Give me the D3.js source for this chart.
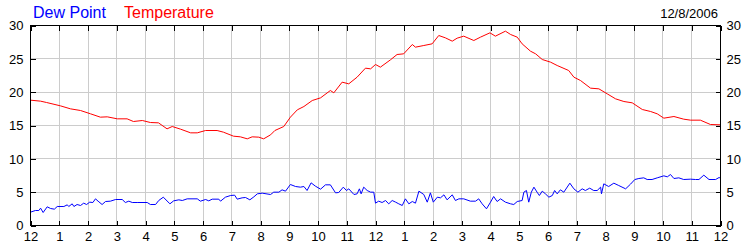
<!DOCTYPE html>
<html>
<head>
<meta charset="utf-8">
<script src="https://cdnjs.cloudflare.com/ajax/libs/d3/7.8.5/d3.min.js"></script>
<style>
  body { margin: 0; background: #fff; }
  svg { display: block; font-family: "Liberation Sans", Arial, sans-serif; }
</style>
</head>
<body>
<svg id="chart" width="750" height="250"></svg>
<script>
// hours after midnight, 12/8/2006
var tempHours = [0, 0.35, 0.56, 1.04, 1.39, 1.74, 2.09, 2.43, 2.67, 3.02, 3.36, 3.58, 3.89, 4.17, 4.45, 4.75, 4.93, 5.22, 5.57, 5.8, 6.09, 6.49, 6.71, 7.06, 7.3, 7.54, 7.71, 7.94, 8.11, 8.35, 8.5, 8.81, 9.04, 9.28, 9.51, 9.8, 10.09, 10.43, 10.55, 10.84, 11.07, 11.36, 11.65, 11.83, 12, 12.17, 12.52, 12.75, 12.98, 13.28, 13.39, 13.68, 13.97, 14.2, 14.43, 14.67, 14.84, 15.07, 15.42, 15.65, 15.98, 16.17, 16.52, 16.7, 16.93, 17.1, 17.39, 17.57, 17.8, 18.09, 18.32, 18.72, 18.9, 19.13, 19.48, 19.77, 20.06, 20.35, 20.64, 20.93, 21.28, 21.57, 21.8, 22.03, 22.38, 22.72, 22.96, 23.3, 23.65, 24];
var temperature = [18.8, 18.65, 18.45, 17.95, 17.5, 17.25, 16.75, 16.25, 16.3, 16, 16, 15.6, 15.75, 15.45, 15.4, 14.5, 14.85, 14.45, 13.9, 13.9, 14.25, 14.25, 14, 13.4, 13.3, 13, 13.3, 13.25, 13, 13.6, 14.25, 14.85, 16.25, 17.35, 17.85, 18.75, 19.15, 20.25, 19.9, 21.5, 21.25, 22.25, 23.6, 23.5, 24.15, 23.75, 24.85, 25.65, 25.75, 27.15, 26.75, 27, 27.25, 28.5, 28.15, 27.65, 28.1, 28.4, 27.75, 28.25, 28.9, 28.4, 29.15, 28.65, 28.25, 27.25, 26.15, 25.75, 24.9, 24.5, 24, 23.25, 22.25, 21.75, 20.6, 20.5, 19.75, 19, 18.6, 18.4, 17.4, 17.1, 16.75, 16.1, 16.35, 15.95, 15.8, 15.8, 15.15, 15.1];

var dewHours = [0, 0.17, 0.29, 0.35, 0.44, 0.58, 0.7, 0.83, 0.93, 1.16, 1.28, 1.33, 1.45, 1.51, 1.62, 1.74, 1.85, 1.95, 2.06, 2.17, 2.26, 2.35, 2.49, 2.61, 2.78, 2.96, 3.19, 3.3, 3.42, 3.54, 3.71, 4.06, 4.17, 4.35, 4.46, 4.62, 4.85, 4.98, 5.16, 5.28, 5.45, 5.8, 5.91, 6.09, 6.2, 6.32, 6.55, 6.61, 6.78, 6.96, 7.1, 7.19, 7.36, 7.48, 7.63, 7.77, 7.89, 8.06, 8.35, 8.46, 8.64, 8.75, 8.87, 9.04, 9.22, 9.39, 9.51, 9.62, 9.76, 9.91, 10.09, 10.26, 10.43, 10.61, 10.72, 10.88, 10.99, 11.07, 11.25, 11.36, 11.44, 11.5, 11.59, 11.71, 11.83, 11.94, 12, 12.11, 12.23, 12.35, 12.46, 12.58, 12.7, 12.81, 12.93, 13.04, 13.16, 13.28, 13.39, 13.51, 13.68, 13.8, 13.91, 14.01, 14.15, 14.26, 14.38, 14.49, 14.67, 14.78, 14.9, 15.07, 15.3, 15.48, 15.59, 15.71, 15.86, 16, 16.11, 16.23, 16.35, 16.52, 16.7, 16.81, 16.93, 17.1, 17.16, 17.25, 17.33, 17.42, 17.51, 17.62, 17.7, 17.8, 17.91, 18.03, 18.15, 18.23, 18.32, 18.43, 18.55, 18.76, 18.9, 19.04, 19.19, 19.3, 19.45, 19.59, 19.71, 19.83, 19.86, 19.94, 20.11, 20.29, 20.46, 20.7, 20.87, 21.02, 21.16, 21.33, 21.45, 21.62, 21.8, 22.03, 22.15, 22.26, 22.38, 22.55, 22.72, 22.96, 23.13, 23.25, 23.42, 23.6, 23.83, 23.95, 24];
var dewPoint = [2, 2.25, 2.25, 2.6, 1.95, 2.8, 2.55, 2.45, 2.85, 2.85, 3.1, 2.85, 3.25, 2.85, 3.15, 3, 3.35, 3.15, 3.5, 3.45, 4, 3.65, 3.15, 3.6, 3.65, 3.9, 3.9, 3.45, 3.65, 3.45, 3.45, 3.45, 3.15, 3.15, 3.75, 4.25, 3.25, 3.7, 3.85, 3.75, 4, 4, 3.65, 3.9, 3.7, 3.95, 3.95, 3.65, 4.25, 4.5, 4.55, 3.95, 4.15, 4.2, 3.85, 4.3, 4.75, 4.85, 4.65, 5, 5, 5.35, 5.15, 6.15, 5.85, 5.75, 5.85, 5.25, 6.4, 5.9, 5.45, 6.1, 6.1, 4.9, 4.95, 5.75, 5.25, 5.5, 4.65, 4.75, 5.5, 4.75, 5.75, 5.25, 5, 5, 3.35, 3.65, 3.45, 3.75, 3.25, 3.75, 3.5, 3.25, 3, 4, 3.25, 3.6, 3.35, 5.15, 4.65, 3.5, 4.9, 3.5, 4.25, 4.15, 4.6, 3.85, 4.6, 3.75, 4, 4, 3.65, 3.65, 4, 3.25, 2.5, 3.5, 4.35, 3.6, 4, 3.5, 3.25, 3.15, 3.6, 3.75, 5, 5.25, 3.5, 5, 5.75, 5, 4.5, 5.15, 4.75, 4.25, 4.5, 5.25, 4.75, 5.35, 5, 6.35, 5.5, 5, 5.5, 5.25, 5.6, 5.25, 5.25, 5.75, 4.75, 6.25, 5.85, 6.35, 6, 5.5, 6.2, 6.9, 7.05, 7.15, 6.9, 6.9, 7.15, 7.45, 7.3, 7.65, 7.05, 7.15, 6.9, 6.95, 6.9, 6.9, 7.55, 6.9, 6.9, 7.2, 7.1];

var hourTicks = d3.range(0, 25);
var valueTicks = [0, 5, 10, 15, 20, 25, 30];
var hourLabels = ["12", "1", "2", "3", "4", "5", "6", "7", "8", "9", "10", "11", "12", "1", "2", "3", "4", "5", "6", "7", "8", "9", "10", "11", "12"];
var dateLabel = "12/8/2006";

var svg = d3.select("#chart");

var x = d3.scaleLinear().domain([0, 24]).range([30.5, 720.5]);
var y = d3.scaleLinear().domain([0, 30]).range([225.5, 25.5]);

// grid
var grid = svg.append("g").attr("shape-rendering", "crispEdges");
grid.selectAll(".vg").data(hourTicks.slice(1, -1)).enter().append("line")
  .attr("x1", function(d) { return Math.round(x(d) - 0.5) + 0.5; })
  .attr("x2", function(d) { return Math.round(x(d) - 0.5) + 0.5; })
  .attr("y1", y(0)).attr("y2", y(30))
  .attr("stroke", "#cccccc");
grid.selectAll(".hg").data(valueTicks.slice(1, -1)).enter().append("line")
  .attr("x1", x(0)).attr("x2", x(24))
  .attr("y1", function(d) { return Math.round(y(d) - 0.5) + 0.5; })
  .attr("y2", function(d) { return Math.round(y(d) - 0.5) + 0.5; })
  .attr("stroke", "#cccccc");

// lines
var line = d3.line()
  .x(function(d) { return x(d[0]); })
  .y(function(d) { return y(d[1]); });

svg.append("path")
  .datum(d3.zip(dewHours, dewPoint))
  .attr("fill", "none")
  .attr("stroke", "#0000ff")
  .attr("stroke-width", 1)
  .attr("d", line);

svg.append("path")
  .datum(d3.zip(tempHours, temperature))
  .attr("fill", "none")
  .attr("stroke", "#ff0000")
  .attr("stroke-width", 1)
  .attr("d", line);

// axes, ticks pointing inward
function styleAxis(g) {
  g.attr("shape-rendering", "crispEdges");
  g.select(".domain").remove();
  g.selectAll(".tick line").attr("stroke", "#000");
  g.selectAll("text").attr("fill", "#000").style("font-size", "13px")
    .style("font-family", "'Liberation Sans', Arial, sans-serif");
}

svg.append("g").attr("transform", "translate(0," + y(0) + ")")
  .call(d3.axisBottom(x).tickValues(hourTicks)
    .tickFormat(function(d, i) { return hourLabels[i]; })
    .tickSizeInner(-5).tickSizeOuter(0).tickPadding(6))
  .call(styleAxis);

svg.append("g").attr("transform", "translate(0," + y(30) + ")")
  .call(d3.axisTop(x).tickValues(hourTicks).tickFormat("")
    .tickSizeInner(-5).tickSizeOuter(0))
  .call(styleAxis);

svg.append("g").attr("transform", "translate(" + x(0) + ",0)")
  .call(d3.axisLeft(y).tickValues(valueTicks)
    .tickSizeInner(-5).tickSizeOuter(0).tickPadding(7))
  .call(styleAxis);

svg.append("g").attr("transform", "translate(" + x(24) + ",0)")
  .call(d3.axisRight(y).tickValues(valueTicks)
    .tickSizeInner(-5).tickSizeOuter(0).tickPadding(6))
  .call(styleAxis);

// frame
svg.append("rect")
  .attr("x", x(0)).attr("y", y(30))
  .attr("width", x(24) - x(0)).attr("height", y(0) - y(30))
  .attr("fill", "none").attr("stroke", "#000")
  .attr("shape-rendering", "crispEdges");

// legend + date
svg.append("text").attr("x", 33).attr("y", 18)
  .attr("fill", "#0000ff").style("font-size", "16px").text("Dew Point");
svg.append("text").attr("x", 124).attr("y", 18)
  .attr("fill", "#ff0000").style("font-size", "16px").text("Temperature");
svg.append("text").attr("x", 718).attr("y", 18)
  .attr("text-anchor", "end").attr("fill", "#000")
  .style("font-size", "13px").text(dateLabel);
</script>
</body>
</html>
